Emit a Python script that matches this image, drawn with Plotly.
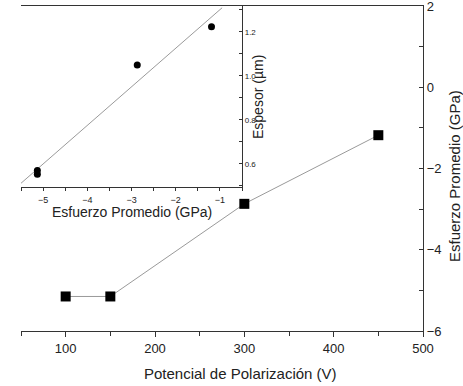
import plotly.graph_objects as go

# Main data
potencial = [100, 150, 300, 450]
esfuerzo = [-5.15, -5.15, -2.87, -1.18]

# Inset data
inset_esfuerzo = [-5.13, -5.13, -2.87, -1.19]
inset_espesor = [0.57, 0.553, 1.05, 1.224]
fit_x = [-5.5, -0.95]
fit_y = [0.512, 1.31]

main_y_ticks = [-6, -4, -2, 0, 2]

FONT = "Liberation Sans, Arial, sans-serif"
W, H = 463, 386
L, R, T, B = 21, 40, 6, 55
PW, PH = W - L - R, H - T - B

def px(x):
    return (x - L) / PW

def py(y):
    return (H - B - y) / PH

fig = go.Figure()

fig.add_trace(go.Scatter(
    x=potencial, y=esfuerzo, mode="lines+markers",
    line=dict(color="#9a9a9a", width=1),
    marker=dict(symbol="square", size=10, color="black"),
    xaxis="x", yaxis="y", showlegend=False))

fig.add_trace(go.Scatter(
    x=fit_x, y=fit_y, mode="lines",
    line=dict(color="#9a9a9a", width=1),
    xaxis="x2", yaxis="y2", showlegend=False))

fig.add_trace(go.Scatter(
    x=inset_esfuerzo, y=inset_espesor, mode="markers",
    marker=dict(symbol="circle", size=7, color="black"),
    xaxis="x2", yaxis="y2", showlegend=False))

axis_line = dict(showline=True, linecolor="#333", linewidth=1.2, showgrid=False,
                 zeroline=False, automargin=False)

inset_x0, inset_x1 = 0.0, px(242)
inset_y0, inset_y1 = py(187), 1.0

fig.update_layout(
    width=W, height=H,
    margin=dict(l=L, r=R, t=T, b=B, autoexpand=False),
    paper_bgcolor="white", plot_bgcolor="white",
    font=dict(family=FONT, color="#222"),
    xaxis=dict(domain=[0, 1], range=[50, 500], dtick=100, tick0=0,
               ticks="outside", ticklen=5, tickcolor="#333",
               minor=dict(dtick=50, ticks="outside", ticklen=4, tickcolor="#333"),
               mirror=True, tickfont=dict(size=13), **axis_line),
    yaxis=dict(domain=[0, 1], range=[-6, 2], tickvals=main_y_ticks, side="right",
               ticks="inside", ticklen=4, tickcolor="#333",
               minor=dict(dtick=1, ticks="inside", ticklen=4, tickcolor="#333"),
               ticklabeloverflow="allow",
               tickfont=dict(size=13), **axis_line),
    yaxis3=dict(overlaying="y", range=[-6, 2], side="left", dtick=1,
                ticks="outside", ticklen=5, tickcolor="#333", showticklabels=False,
                **axis_line),
    xaxis2=dict(domain=[inset_x0, inset_x1], anchor="y2", range=[-5.5, -0.5],
                dtick=1, ticks="outside", ticklen=3, tickcolor="#333",
                minor=dict(dtick=0.5, ticks="outside", ticklen=3, tickcolor="#333"),
                tickfont=dict(size=9), ticklabelstandoff=1, **axis_line),
    yaxis2=dict(domain=[inset_y0, inset_y1], anchor="x2", side="right",
                range=[0.495, 1.318], tickvals=[0.6, 0.8, 1.0, 1.2], tickformat=".1f",
                ticks="inside", ticklen=3, tickcolor="#333",
                minor=dict(dtick=0.1, ticks="inside", ticklen=3, tickcolor="#333"),
                tickfont=dict(size=8), **axis_line),
)

# inset white background
fig.add_shape(type="rect", xref="paper", yref="paper",
              x0=inset_x0, x1=inset_x1, y0=inset_y0, y1=inset_y1,
              fillcolor="white", line=dict(width=0), layer="below")

ann = dict(xref="paper", yref="paper", showarrow=False, font=dict(family=FONT, color="#222"))
fig.add_annotation(text="Potencial de Polarización (V)", x=px(241), y=py(373),
                   xanchor="center", yanchor="middle", **{**ann, "font": dict(family=FONT, size=15, color="#222")})
fig.add_annotation(text="Esfuerzo Promedio (GPa)", x=px(455), y=py(176), textangle=-90,
                   xanchor="center", yanchor="middle", **{**ann, "font": dict(family=FONT, size=15, color="#222")})
fig.add_annotation(text="Esfuerzo Promedio (GPa)", x=px(132), y=py(212),
                   xanchor="center", yanchor="middle", **{**ann, "font": dict(family=FONT, size=14, color="#222")})
fig.add_annotation(text="Espesor (µm)", x=px(258), y=py(97), textangle=-90,
                   xanchor="center", yanchor="middle", **{**ann, "font": dict(family=FONT, size=14, color="#222")})

fig.write_html("out.html")
